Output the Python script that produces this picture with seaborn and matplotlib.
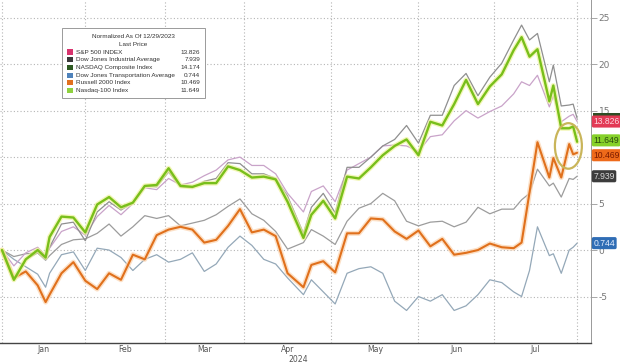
import pandas as pd
import matplotlib
matplotlib.use("Agg")
import matplotlib.pyplot as plt
import matplotlib.transforms as mtransforms
from matplotlib.patches import Ellipse, Rectangle
import seaborn as sns

# sample dates (trading days), values are % change since 12/29/2023
dates = ["2023-12-29",
         "2024-01-04", "2024-01-09", "2024-01-12", "2024-01-17", "2024-01-18", "2024-01-23", "2024-01-26", "2024-01-31",
         "2024-02-05", "2024-02-08", "2024-02-13", "2024-02-16", "2024-02-22", "2024-02-27",
         "2024-03-01", "2024-03-06", "2024-03-11", "2024-03-14", "2024-03-19", "2024-03-22", "2024-03-27",
         "2024-04-02", "2024-04-05", "2024-04-10", "2024-04-15", "2024-04-19", "2024-04-23", "2024-04-26",
         "2024-05-01", "2024-05-06", "2024-05-09", "2024-05-14", "2024-05-17", "2024-05-22", "2024-05-28", "2024-05-31",
         "2024-06-05", "2024-06-10", "2024-06-13", "2024-06-18", "2024-06-24", "2024-06-27",
         "2024-07-02", "2024-07-08", "2024-07-10", "2024-07-12", "2024-07-16", "2024-07-19", "2024-07-22",
         "2024-07-24", "2024-07-26", "2024-07-29", "2024-07-30"]

spx = [0.0,
       -1.7, -0.3, 0.3, -0.6, 0.2, 2.0, 2.5, 1.6,
       3.6, 4.8, 3.8, 5.0, 6.7, 6.5,
       7.7, 7.0, 7.3, 8.0, 8.6, 9.7, 10.0,
       9.1, 9.1, 8.2, 6.1, 4.1, 6.3, 6.9,
       5.2, 8.6, 9.3, 10.0, 11.2, 11.3, 11.2, 10.6,
       12.2, 12.4, 13.9, 15.0, 14.2, 14.9,
       15.5, 16.8, 18.1, 17.7, 18.8, 15.4, 16.6, 13.8, 14.4, 14.6, 13.826]

dji = [0.0,
       -0.7, -0.4, -0.3, -1.1, -0.6, 0.6, 1.1, 1.2,
       1.8, 2.8, 1.5, 2.5, 3.7, 3.4,
       3.7, 2.6, 2.9, 3.2, 3.8, 4.7, 5.5,
       3.9, 3.2, 2.0, 0.1, 0.8, 2.2, 1.5,
       0.6, 3.1, 4.5, 5.0, 6.1, 5.3, 3.1, 2.6,
       3.0, 3.1, 2.5, 3.0, 4.6, 3.9,
       4.4, 4.4, 5.4, 6.1, 8.7, 6.9, 7.2, 5.7, 7.7, 7.6, 7.939]

ccmp = [0.0,
        -3.3, -1.0, -0.3, -1.0, 0.3, 2.8, 3.0, 1.0,
        4.1, 5.2, 4.3, 5.1, 6.9, 6.8,
        8.4, 6.8, 6.7, 7.4, 7.7, 9.4, 9.3,
        8.2, 8.2, 7.7, 5.8, 1.8, 4.6, 6.1,
        4.0, 8.9, 8.9, 10.0, 11.2, 11.9, 13.4, 11.5,
        14.5, 14.5, 17.7, 19.0, 16.6, 18.6,
        20.1, 22.6, 24.2, 22.6, 23.3, 18.1, 19.9, 15.5, 15.6, 15.7, 14.174]

djt = [0.0,
       -1.0, -1.8, -2.6, -4.0, -2.5, -0.5, -0.2, -2.2,
       0.2, 0.0, -0.8, -2.2, -1.0, -0.5,
       -1.3, -1.0, -0.3, -2.3, -1.5, 0.3, 1.5,
       0.5, -1.0, -1.5, -3.0, -4.8, -3.2, -4.5,
       -5.8, -2.5, -2.0, -1.8, -2.5, -5.5, -6.5, -5.0,
       -5.5, -4.8, -6.5, -6.0, -4.8, -3.2,
       -3.5, -4.5, -5.0, -2.2, 2.5, -0.6, -0.4, -2.5, 0.0, 0.3, 0.744]

rty = [0.0,
       -3.0, -2.3, -3.8, -5.6, -4.8, -2.5, -1.3, -3.3,
       -4.2, -2.5, -3.2, -0.5, -1.0, 1.6,
       2.2, 2.5, 2.2, 0.8, 1.1, 2.6, 4.4,
       1.9, 2.2, 1.5, -2.5, -4.0, -1.6, -1.2,
       -2.4, 1.8, 1.8, 3.4, 3.3, 2.0, 1.2, 2.1,
       0.4, 1.2, -0.5, -0.3, 0.0, 0.7,
       0.3, 0.2, 0.8, 6.2, 11.6, 7.8, 9.9, 7.8, 11.4, 10.3, 10.469]

ndx = [0.0,
       -3.2, -1.0, 0.0, -0.8, 1.4, 3.6, 3.5, 1.9,
       4.9, 5.7, 4.6, 5.1, 6.9, 7.0,
       8.8, 6.9, 6.8, 7.2, 7.2, 9.0, 8.6,
       7.8, 7.9, 7.6, 5.2, 1.3, 3.8, 5.3,
       3.4, 7.9, 7.7, 8.9, 10.2, 11.2, 11.9, 10.2,
       13.8, 13.4, 15.7, 18.3, 15.7, 17.6,
       18.9, 21.5, 22.9, 20.8, 21.6, 16.0, 17.7, 13.1, 13.1, 13.3, 11.649]

names = ["S&P 500 INDEX", "Dow Jones Industrial Average", "NASDAQ Composite Index",
         "Dow Jones Transportation Average", "Russell 2000 Index", "Nasdaq-100 Index"]
last_price = ["13.826", "7.939", "14.174", "0.744", "10.469", "11.649"]
legend_colors = ["#d8336e", "#3a3a3a", "#2e5a22", "#4f82bb", "#e2701e", "#8fd13f"]
months = ["Jan", "Feb", "Mar", "Apr", "May", "Jun", "Jul"]
holidays = ["2024-01-01", "2024-01-15", "2024-02-19", "2024-03-29",
            "2024-05-27", "2024-06-19", "2024-07-04"]

W, H = 620, 363


def fx(px):
    return px / W


def fy(py):
    return 1 - py / H


# trading-day axis like the terminal chart
trading = pd.bdate_range("2023-12-29", "2024-07-30")
trading = trading[~trading.isin(pd.to_datetime(holidays))]
x = trading.get_indexer(pd.to_datetime(dates))
month_end = trading.to_series().groupby(trading.to_period("M")).max()
grid_x = trading.get_indexer(pd.DatetimeIndex(month_end.values))
mid_x = (grid_x[:-1] + grid_x[1:]) / 2

sns.set_theme(style="white")
plt.rcParams["font.family"] = ["DejaVu Sans"]
plt.rcParams["axes.unicode_minus"] = False

fig = plt.figure(figsize=(6.2, 3.63), dpi=100)
ax = fig.add_axes([0, fy(343), fx(591), 343 / H])

lines = [
    (djt, "#94a8b8", 0.9, None),
    (dji, "#9c9c9c", 0.9, None),
    (spx, "#c9a3c9", 0.9, None),
    (ccmp, "#8f8f8f", 0.9, None),
    (rty, "#e0701c", 1.5, "#fbd3ae"),
    (ndx, "#78bf1a", 1.7, "#eef39a"),
]
for vals, col, lw, glow in lines:
    if glow:
        sns.lineplot(x=x, y=vals, color=glow, linewidth=3.6, alpha=0.7, ax=ax, legend=False)
    sns.lineplot(x=x, y=vals, color=col, linewidth=lw, ax=ax, legend=False)

ax.set_xlim(-0.5, 148.5)
ax.set_ylim(-10, 26.9)
ax.set_xlabel("")
ax.set_ylabel("")

ax.set_xticks(grid_x)
ax.set_xticklabels([])
ax.set_xticks(mid_x, minor=True)
ax.set_xticklabels(months, minor=True)
ax.set_yticks(range(-5, 30, 5))
ax.grid(axis="both", which="major", linestyle=(0, (1, 2)), color="#b5b5b5", linewidth=0.8)

ax.yaxis.tick_right()
ax.tick_params(axis="y", direction="out", length=4, width=0.6, color="#999999",
               labelsize=6.5, labelcolor="#777777", pad=1.5)
ax.tick_params(axis="x", which="major", direction="inout", length=4, width=0.6, color="#555555")
ax.tick_params(axis="x", which="minor", length=0, labelsize=5.6, labelcolor="#555555", pad=1.5)

for s in ["left", "top"]:
    ax.spines[s].set_visible(False)
ax.spines["right"].set_color("#999999")
ax.spines["right"].set_linewidth(0.7)
ax.spines["bottom"].set_color("#444444")
ax.spines["bottom"].set_linewidth(1.0)

fig.text(fx(298), fy(359), "2024", ha="center", va="center", fontsize=5.6, color="#555555")

# highlight ellipse
ax.add_patch(Ellipse((142.8, 11.2), width=6.8, height=4.9, fill=False,
                     edgecolor="#c9b55a", linewidth=1.6, zorder=6))

# last-value tags on the right axis (NASDAQ Composite tag sits hidden under the S&P one)
trans = mtransforms.blended_transform_factory(ax.transAxes, ax.transData)
ax.add_patch(Rectangle((1.003, 13.9), 0.06, 0.8, transform=trans, facecolor="#2e4d24",
                       edgecolor="none", clip_on=False, zorder=9))
tags = [
    (13.826, "13.826", "#e23a55", "#ffd6de"),
    (7.939, "7.939", "#3c3c3c", "#d8d8d8"),
    (0.744, "0.744", "#2f6db5", "#e3eeff"),
    (10.2, "10.469", "#ee6a1a", "#7a1a00"),
    (11.8, "11.649", "#86d12a", "#2a4a10"),
]
for val, txt, fc, tc in tags:
    ax.text(1.004, val, txt, transform=trans, fontsize=6.2, color=tc, va="center", ha="left",
            family=["Liberation Sans"],
            bbox=dict(boxstyle="round,pad=0.18,rounding_size=0.2", fc=fc, ec="none"),
            clip_on=False, zorder=10)

# legend box
fig.patches.append(Rectangle((fx(62), fy(98)), fx(143), 70 / H, transform=fig.transFigure,
                             facecolor="white", edgecolor="#9a9a9a", linewidth=0.7, zorder=20))
fig.text(fx(133), fy(37), "Normalized As Of 12/29/2023", ha="center", va="center",
         fontsize=4.6, color="#333333", family=["Liberation Sans"], zorder=21)
fig.text(fx(133), fy(44.5), "Last Price", ha="center", va="center",
         fontsize=4.6, color="#333333", family=["Liberation Sans"], zorder=21)
for i, (nm, lp, c) in enumerate(zip(names, last_price, legend_colors)):
    yy = 52 + 7.7 * i
    fig.patches.append(Rectangle((fx(67), fy(yy + 2.5)), fx(6), 5 / H, transform=fig.transFigure,
                                 facecolor=c, edgecolor="none", zorder=21))
    fig.text(fx(76), fy(yy), nm, ha="left", va="center", fontsize=4.6, color="#333333",
             family=["Liberation Sans"], zorder=21)
    fig.text(fx(200), fy(yy), lp, ha="right", va="center", fontsize=4.6, color="#333333",
             family=["Liberation Sans"], zorder=21)

fig.savefig("out.png", dpi=100)
